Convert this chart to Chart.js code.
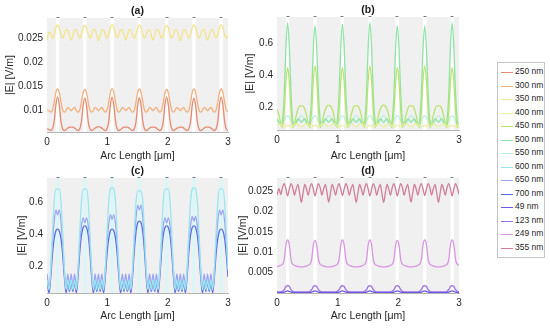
<!DOCTYPE html>
<html>
<head>
<meta charset="utf-8">
<script src="https://cdn.jsdelivr.net/npm/chart.js@4.4.0/dist/chart.umd.min.js"></script>
<style>
  body { margin: 0; background: #fff; }
  #wrap { position: relative; width: 550px; height: 328px; overflow: hidden; font-family: "Liberation Sans", Arial, sans-serif; }
  #wrap canvas { position: absolute; }
  #legend { position: absolute; left: 497px; top: 62px; width: 46px; padding: 2px 0 3px 0; border: 1px solid #c4c4c4; background: #fff; }
  #legend .row { position: relative; height: 13.5px; line-height: 13.5px; font-size: 8.5px; color: #262626; white-space: nowrap; padding-left: 17px; }
  #legend .sw { position: absolute; left: 3px; top: 7px; width: 12px; height: 0; }
</style>
</head>
<body>
<div id="wrap">
  <canvas id="chartA" width="240" height="164" style="left:0;top:0"></canvas>
  <canvas id="chartB" width="244" height="164" style="left:236px;top:0"></canvas>
  <canvas id="chartC" width="240" height="164" style="left:0;top:164px"></canvas>
  <canvas id="chartD" width="244" height="164" style="left:236px;top:164px"></canvas>
  <div id="legend"></div>
</div>
<script>
// abscisse commune (µm)
const arcLength = [
  0, 0.034, 0.062, 0.090, 0.119, 0.147,
  0.175, 0.203, 0.232, 0.260, 0.288, 0.316, 0.345, 0.373, 0.401, 0.429, 0.458, 0.486, 0.514, 0.542, 0.571, 0.599,
  0.627, 0.655, 0.684, 0.712, 0.740, 0.768, 0.797, 0.825, 0.853, 0.881, 0.910, 0.938, 0.966, 0.994, 1.023, 1.051,
  1.079, 1.107, 1.136, 1.164, 1.192, 1.220, 1.249, 1.277, 1.305, 1.333, 1.362, 1.390, 1.418, 1.446, 1.475, 1.503,
  1.531, 1.559, 1.588, 1.616, 1.644, 1.672, 1.701, 1.729, 1.757, 1.785, 1.814, 1.842, 1.870, 1.898, 1.927, 1.955,
  1.983, 2.011, 2.040, 2.068, 2.096, 2.124, 2.153, 2.181, 2.209, 2.237, 2.266, 2.294, 2.322, 2.350, 2.379, 2.407,
  2.435, 2.463, 2.492, 2.520, 2.548, 2.576, 2.605, 2.633, 2.661, 2.689, 2.718, 2.746, 2.774, 2.802, 2.831, 2.859,
  2.887, 2.915, 2.944, 2.972, 3.000
];
const gapCenters = [0.175, 0.627, 1.079, 1.531, 1.983, 2.435, 2.887];
const xTicks = [0, 1, 2, 3];

const wavelengths = ['250 nm', '300 nm', '350 nm', '400 nm', '450 nm', '500 nm', '550 nm',
  '600 nm', '650 nm', '700 nm', '49 nm', '123 nm', '249 nm', '355 nm'];
const lineColors = ['#e58a70', '#f4b07c', '#f3e38a', '#eaf0a0', '#b9e46c', '#8fe3a6', '#b8f0dc',
  '#98e6ee', '#9aa6f2', '#5a6ee4', '#6a5ae2', '#a06ee6', '#d896e2', '#cf7f9c'];

const panelTitles = ['(a)', '(b)', '(c)', '(d)'];
const yTicksA = [0.01, 0.015, 0.02, 0.025];
const yLabelsA = ['0.01', '0.015', '0.02', '0.025'];
const yTicksB = [0.2, 0.4, 0.6];
const yLabelsB = ['0.2', '0.4', '0.6'];
const yTicksC = [0.2, 0.4, 0.6];
const yLabelsC = ['0.2', '0.4', '0.6'];
const yTicksD = [0.005, 0.01, 0.015, 0.02, 0.025];
const yLabelsD = ['0.005', '0.01', '0.015', '0.02', '0.025'];

// (a)
const e250 = [
  0.0063, 0.0061, 0.0059, 0.0062, 0.0078, 0.0112,
  0.0128, 0.0112, 0.0078, 0.0062, 0.0059, 0.0061, 0.0064, 0.0066, 0.0066, 0.0066, 0.0064, 0.0061, 0.0059, 0.0062, 0.0078, 0.0111,
  0.0126, 0.0111, 0.0077, 0.0062, 0.0059, 0.0061, 0.0064, 0.0066, 0.0067, 0.0066, 0.0064, 0.0061, 0.0059, 0.0062, 0.0078, 0.0112,
  0.0128, 0.0112, 0.0078, 0.0062, 0.0059, 0.0061, 0.0064, 0.0066, 0.0066, 0.0066, 0.0064, 0.0061, 0.0059, 0.0062, 0.0077, 0.0111,
  0.0127, 0.0111, 0.0078, 0.0062, 0.0059, 0.0061, 0.0064, 0.0066, 0.0066, 0.0066, 0.0064, 0.0061, 0.0059, 0.0062, 0.0078, 0.0112,
  0.0128, 0.0112, 0.0078, 0.0062, 0.0059, 0.0061, 0.0064, 0.0065, 0.0066, 0.0066, 0.0064, 0.0061, 0.0059, 0.0062, 0.0077, 0.0111,
  0.0126, 0.0111, 0.0077, 0.0062, 0.0059, 0.0061, 0.0064, 0.0066, 0.0066, 0.0066, 0.0064, 0.0061, 0.0059, 0.0062, 0.0078, 0.0112,
  0.0128, 0.0112, 0.0078, 0.0062, 0.0059
];
const e300 = [
  0.0102, 0.0100, 0.0097, 0.0101, 0.0118, 0.0138,
  0.0145, 0.0138, 0.0118, 0.0101, 0.0097, 0.0101, 0.0107, 0.0104, 0.0100, 0.0104, 0.0107, 0.0101, 0.0097, 0.0101, 0.0118, 0.0137,
  0.0144, 0.0137, 0.0117, 0.0101, 0.0097, 0.0101, 0.0107, 0.0104, 0.0100, 0.0104, 0.0107, 0.0101, 0.0097, 0.0101, 0.0118, 0.0138,
  0.0146, 0.0138, 0.0118, 0.0101, 0.0097, 0.0101, 0.0107, 0.0104, 0.0100, 0.0104, 0.0107, 0.0101, 0.0097, 0.0101, 0.0118, 0.0138,
  0.0145, 0.0138, 0.0118, 0.0101, 0.0097, 0.0101, 0.0107, 0.0104, 0.0100, 0.0104, 0.0107, 0.0101, 0.0097, 0.0101, 0.0117, 0.0137,
  0.0144, 0.0137, 0.0117, 0.0101, 0.0097, 0.0101, 0.0107, 0.0104, 0.0100, 0.0104, 0.0107, 0.0101, 0.0097, 0.0101, 0.0118, 0.0138,
  0.0145, 0.0138, 0.0118, 0.0101, 0.0097, 0.0101, 0.0107, 0.0104, 0.0100, 0.0104, 0.0107, 0.0101, 0.0097, 0.0101, 0.0118, 0.0138,
  0.0145, 0.0138, 0.0118, 0.0101, 0.0098
];
const e350 = [
  0.0246, 0.0262, 0.0260, 0.0250, 0.0258, 0.0272,
  0.0278, 0.0272, 0.0258, 0.0250, 0.0258, 0.0268, 0.0267, 0.0256, 0.0246, 0.0256, 0.0268, 0.0268, 0.0258, 0.0250, 0.0258, 0.0272,
  0.0277, 0.0271, 0.0258, 0.0250, 0.0258, 0.0268, 0.0268, 0.0256, 0.0245, 0.0256, 0.0267, 0.0268, 0.0258, 0.0250, 0.0258, 0.0272,
  0.0278, 0.0272, 0.0258, 0.0251, 0.0258, 0.0268, 0.0268, 0.0256, 0.0246, 0.0256, 0.0268, 0.0268, 0.0258, 0.0250, 0.0258, 0.0271,
  0.0278, 0.0272, 0.0258, 0.0250, 0.0258, 0.0267, 0.0268, 0.0256, 0.0246, 0.0256, 0.0268, 0.0268, 0.0258, 0.0250, 0.0258, 0.0272,
  0.0277, 0.0272, 0.0258, 0.0250, 0.0258, 0.0268, 0.0268, 0.0256, 0.0245, 0.0256, 0.0268, 0.0267, 0.0258, 0.0250, 0.0258, 0.0272,
  0.0278, 0.0272, 0.0258, 0.0250, 0.0258, 0.0268, 0.0268, 0.0256, 0.0246, 0.0256, 0.0268, 0.0268, 0.0258, 0.0251, 0.0258, 0.0272,
  0.0278, 0.0272, 0.0258, 0.0250, 0.0256
];

// (b)
const e400 = [
  0.095, 0.100, 0.095, 0.085, 0.080, 0.085,
  0.090, 0.085, 0.080, 0.085, 0.095, 0.100, 0.095, 0.085, 0.080, 0.085, 0.095, 0.100, 0.095, 0.085, 0.080, 0.085,
  0.090, 0.085, 0.080, 0.085, 0.095, 0.099, 0.095, 0.085, 0.081, 0.085, 0.095, 0.100, 0.095, 0.085, 0.080, 0.085,
  0.091, 0.085, 0.080, 0.085, 0.095, 0.100, 0.095, 0.085, 0.080, 0.085, 0.095, 0.100, 0.094, 0.085, 0.080, 0.085,
  0.090, 0.085, 0.080, 0.085, 0.095, 0.100, 0.095, 0.085, 0.080, 0.085, 0.095, 0.099, 0.095, 0.085, 0.080, 0.085,
  0.090, 0.085, 0.081, 0.085, 0.095, 0.100, 0.095, 0.085, 0.080, 0.085, 0.095, 0.100, 0.095, 0.085, 0.080, 0.085,
  0.090, 0.085, 0.080, 0.085, 0.094, 0.100, 0.095, 0.085, 0.080, 0.085, 0.095, 0.100, 0.095, 0.085, 0.080, 0.085,
  0.090, 0.085, 0.080, 0.085, 0.095
];
const e450 = [
  0.19, 0.15, 0.10, 0.075, 0.18, 0.36,
  0.45, 0.36, 0.18, 0.075, 0.10, 0.15, 0.19, 0.21, 0.21, 0.21, 0.19, 0.15, 0.10, 0.075, 0.18, 0.37,
  0.46, 0.37, 0.18, 0.075, 0.10, 0.15, 0.19, 0.21, 0.215, 0.21, 0.19, 0.15, 0.10, 0.075, 0.18, 0.36,
  0.45, 0.36, 0.18, 0.075, 0.10, 0.15, 0.19, 0.21, 0.21, 0.21, 0.19, 0.15, 0.10, 0.075, 0.18, 0.37,
  0.46, 0.37, 0.18, 0.075, 0.10, 0.15, 0.19, 0.21, 0.215, 0.21, 0.19, 0.15, 0.10, 0.075, 0.18, 0.36,
  0.45, 0.36, 0.18, 0.075, 0.10, 0.15, 0.19, 0.21, 0.21, 0.21, 0.19, 0.15, 0.10, 0.075, 0.18, 0.37,
  0.46, 0.37, 0.18, 0.075, 0.10, 0.15, 0.19, 0.21, 0.21, 0.21, 0.19, 0.15, 0.10, 0.075, 0.18, 0.36,
  0.45, 0.36, 0.18, 0.075, 0.10
];
const e500 = [
  0.13, 0.11, 0.09, 0.12, 0.28, 0.58,
  0.73, 0.58, 0.28, 0.12, 0.09, 0.11, 0.13, 0.12, 0.11, 0.12, 0.13, 0.11, 0.09, 0.12, 0.28, 0.57,
  0.71, 0.57, 0.28, 0.12, 0.09, 0.11, 0.13, 0.12, 0.11, 0.12, 0.13, 0.11, 0.09, 0.12, 0.28, 0.58,
  0.72, 0.58, 0.28, 0.12, 0.09, 0.11, 0.13, 0.12, 0.11, 0.12, 0.13, 0.11, 0.09, 0.12, 0.28, 0.58,
  0.73, 0.58, 0.28, 0.12, 0.09, 0.11, 0.13, 0.12, 0.11, 0.12, 0.13, 0.11, 0.09, 0.12, 0.28, 0.57,
  0.71, 0.57, 0.28, 0.12, 0.09, 0.11, 0.13, 0.12, 0.11, 0.12, 0.13, 0.11, 0.09, 0.12, 0.28, 0.57,
  0.71, 0.57, 0.28, 0.12, 0.09, 0.11, 0.13, 0.12, 0.11, 0.12, 0.13, 0.11, 0.09, 0.12, 0.28, 0.58,
  0.73, 0.58, 0.28, 0.12, 0.09
];
const e550 = [
  0.12, 0.10, 0.09, 0.10, 0.12, 0.14,
  0.15, 0.14, 0.12, 0.10, 0.09, 0.10, 0.12, 0.14, 0.15, 0.14, 0.12, 0.10, 0.09, 0.10, 0.12, 0.14,
  0.15, 0.14, 0.12, 0.10, 0.09, 0.10, 0.12, 0.14, 0.15, 0.14, 0.12, 0.10, 0.09, 0.10, 0.12, 0.14,
  0.15, 0.14, 0.12, 0.10, 0.09, 0.10, 0.12, 0.14, 0.15, 0.14, 0.12, 0.10, 0.09, 0.10, 0.12, 0.14,
  0.15, 0.14, 0.12, 0.10, 0.09, 0.10, 0.12, 0.14, 0.15, 0.14, 0.12, 0.10, 0.09, 0.10, 0.12, 0.14,
  0.15, 0.14, 0.12, 0.10, 0.09, 0.10, 0.12, 0.14, 0.15, 0.14, 0.12, 0.10, 0.09, 0.10, 0.12, 0.14,
  0.15, 0.14, 0.12, 0.10, 0.09, 0.10, 0.12, 0.14, 0.15, 0.14, 0.12, 0.10, 0.09, 0.10, 0.12, 0.14,
  0.15, 0.14, 0.12, 0.10, 0.09
];

// (c)
const e600 = [
  0.11, 0.05, 0.18, 0.40, 0.60, 0.68,
  0.68, 0.68, 0.60, 0.40, 0.18, 0.05, 0.11, 0.05, 0.11, 0.05, 0.11, 0.05, 0.18, 0.40, 0.60, 0.68,
  0.68, 0.68, 0.60, 0.40, 0.18, 0.05, 0.11, 0.05, 0.11, 0.05, 0.11, 0.05, 0.18, 0.40, 0.60, 0.68,
  0.69, 0.68, 0.60, 0.40, 0.18, 0.05, 0.11, 0.05, 0.11, 0.05, 0.11, 0.05, 0.18, 0.40, 0.60, 0.67,
  0.67, 0.67, 0.60, 0.40, 0.18, 0.05, 0.11, 0.05, 0.11, 0.05, 0.11, 0.05, 0.18, 0.40, 0.60, 0.68,
  0.68, 0.68, 0.60, 0.40, 0.18, 0.05, 0.11, 0.05, 0.11, 0.05, 0.11, 0.05, 0.18, 0.40, 0.60, 0.68,
  0.69, 0.68, 0.60, 0.40, 0.18, 0.05, 0.11, 0.05, 0.11, 0.05, 0.11, 0.05, 0.18, 0.40, 0.60, 0.68,
  0.68, 0.68, 0.60, 0.40, 0.18
];
const e650 = [
  0.15, 0.06, 0.17, 0.34, 0.48, 0.55,
  0.52, 0.55, 0.48, 0.34, 0.17, 0.06, 0.15, 0.07, 0.15, 0.07, 0.15, 0.06, 0.17, 0.34, 0.45, 0.50,
  0.47, 0.50, 0.45, 0.33, 0.17, 0.06, 0.15, 0.07, 0.15, 0.07, 0.15, 0.06, 0.17, 0.34, 0.46, 0.52,
  0.49, 0.52, 0.46, 0.34, 0.17, 0.06, 0.15, 0.07, 0.15, 0.07, 0.15, 0.06, 0.17, 0.35, 0.50, 0.58,
  0.55, 0.58, 0.50, 0.35, 0.17, 0.06, 0.15, 0.07, 0.15, 0.07, 0.15, 0.06, 0.17, 0.33, 0.45, 0.50,
  0.47, 0.50, 0.45, 0.33, 0.17, 0.06, 0.15, 0.07, 0.15, 0.07, 0.15, 0.06, 0.17, 0.34, 0.45, 0.51,
  0.48, 0.51, 0.45, 0.34, 0.17, 0.06, 0.15, 0.07, 0.15, 0.07, 0.15, 0.06, 0.17, 0.34, 0.48, 0.55,
  0.52, 0.55, 0.48, 0.34, 0.17
];
const e700 = [
  0.10, 0.03, 0.13, 0.27, 0.37, 0.42,
  0.43, 0.42, 0.37, 0.27, 0.13, 0.03, 0.10, 0.04, 0.10, 0.04, 0.10, 0.03, 0.13, 0.28, 0.39, 0.44,
  0.45, 0.44, 0.39, 0.28, 0.13, 0.03, 0.10, 0.04, 0.10, 0.04, 0.10, 0.03, 0.13, 0.27, 0.37, 0.42,
  0.43, 0.42, 0.37, 0.27, 0.13, 0.03, 0.10, 0.04, 0.10, 0.04, 0.10, 0.03, 0.13, 0.29, 0.41, 0.47,
  0.48, 0.47, 0.41, 0.29, 0.13, 0.03, 0.10, 0.04, 0.10, 0.04, 0.10, 0.03, 0.13, 0.28, 0.39, 0.44,
  0.45, 0.44, 0.39, 0.28, 0.13, 0.03, 0.10, 0.04, 0.10, 0.04, 0.10, 0.03, 0.13, 0.28, 0.39, 0.44,
  0.45, 0.44, 0.39, 0.28, 0.13, 0.03, 0.10, 0.04, 0.10, 0.04, 0.10, 0.03, 0.13, 0.27, 0.37, 0.42,
  0.43, 0.42, 0.37, 0.27, 0.13
];

// (d)
const e49 = [
  0.0001, 0.0001, 0.0001, 0.0001, 0.0002, 0.0004,
  0.0005, 0.0004, 0.0002, 0.0001, 0.0001, 0.0001, 0.0001, 0.0001, 0.0001, 0.0001, 0.0001, 0.0001, 0.0001, 0.0001, 0.0002, 0.0004,
  0.0005, 0.0004, 0.0002, 0.0001, 0.0001, 0.0001, 0.0001, 0.0001, 0.0001, 0.0001, 0.0001, 0.0001, 0.0001, 0.0001, 0.0002, 0.0004,
  0.0005, 0.0004, 0.0002, 0.0001, 0.0001, 0.0001, 0.0001, 0.0001, 0.0001, 0.0001, 0.0001, 0.0001, 0.0001, 0.0001, 0.0002, 0.0004,
  0.0005, 0.0004, 0.0002, 0.0001, 0.0001, 0.0001, 0.0001, 0.0001, 0.0001, 0.0001, 0.0001, 0.0001, 0.0001, 0.0001, 0.0002, 0.0004,
  0.0005, 0.0004, 0.0002, 0.0001, 0.0001, 0.0001, 0.0001, 0.0001, 0.0001, 0.0001, 0.0001, 0.0001, 0.0001, 0.0001, 0.0002, 0.0004,
  0.0005, 0.0004, 0.0002, 0.0001, 0.0001, 0.0001, 0.0001, 0.0001, 0.0001, 0.0001, 0.0001, 0.0001, 0.0001, 0.0001, 0.0002, 0.0004,
  0.0005, 0.0004, 0.0002, 0.0001, 0.0001
];
const e123 = [
  0.0003, 0.0003, 0.0003, 0.0004, 0.0008, 0.0016,
  0.0018, 0.0016, 0.0008, 0.0004, 0.0003, 0.0003, 0.0003, 0.0003, 0.0003, 0.0003, 0.0003, 0.0003, 0.0003, 0.0004, 0.0008, 0.0016,
  0.0018, 0.0016, 0.0008, 0.0004, 0.0003, 0.0003, 0.0003, 0.0003, 0.0003, 0.0003, 0.0003, 0.0003, 0.0003, 0.0004, 0.0008, 0.0016,
  0.0018, 0.0016, 0.0008, 0.0004, 0.0003, 0.0003, 0.0003, 0.0003, 0.0003, 0.0003, 0.0003, 0.0003, 0.0003, 0.0004, 0.0008, 0.0016,
  0.0018, 0.0016, 0.0008, 0.0004, 0.0003, 0.0003, 0.0003, 0.0003, 0.0003, 0.0003, 0.0003, 0.0003, 0.0003, 0.0004, 0.0008, 0.0016,
  0.0018, 0.0016, 0.0008, 0.0004, 0.0003, 0.0003, 0.0003, 0.0003, 0.0003, 0.0003, 0.0003, 0.0003, 0.0003, 0.0004, 0.0008, 0.0016,
  0.0018, 0.0016, 0.0008, 0.0004, 0.0003, 0.0003, 0.0003, 0.0003, 0.0003, 0.0003, 0.0003, 0.0003, 0.0003, 0.0004, 0.0008, 0.0016,
  0.0018, 0.0016, 0.0008, 0.0004, 0.0003
];
const e249 = [
  0.0065, 0.0066, 0.0068, 0.0070, 0.0082, 0.0118,
  0.0130, 0.0118, 0.0082, 0.0070, 0.0068, 0.0066, 0.0065, 0.0064, 0.0064, 0.0064, 0.0065, 0.0066, 0.0068, 0.0070, 0.0082, 0.0117,
  0.0129, 0.0117, 0.0082, 0.0070, 0.0068, 0.0066, 0.0065, 0.0064, 0.0064, 0.0064, 0.0065, 0.0066, 0.0068, 0.0070, 0.0082, 0.0118,
  0.0130, 0.0118, 0.0082, 0.0070, 0.0068, 0.0066, 0.0065, 0.0064, 0.0064, 0.0064, 0.0065, 0.0066, 0.0068, 0.0070, 0.0082, 0.0118,
  0.0130, 0.0118, 0.0082, 0.0070, 0.0068, 0.0066, 0.0065, 0.0064, 0.0064, 0.0064, 0.0065, 0.0066, 0.0068, 0.0070, 0.0082, 0.0117,
  0.0129, 0.0117, 0.0082, 0.0070, 0.0068, 0.0066, 0.0065, 0.0064, 0.0064, 0.0064, 0.0065, 0.0066, 0.0068, 0.0070, 0.0082, 0.0118,
  0.0130, 0.0118, 0.0082, 0.0070, 0.0068, 0.0066, 0.0065, 0.0064, 0.0064, 0.0064, 0.0065, 0.0066, 0.0068, 0.0070, 0.0082, 0.0118,
  0.0130, 0.0118, 0.0082, 0.0070, 0.0068
];
const e355 = [
  0.0240, 0.0256, 0.0241, 0.0258, 0.0268, 0.0255,
  0.0238, 0.0255, 0.0268, 0.0258, 0.0240, 0.0255, 0.0266, 0.0245, 0.0222, 0.0245, 0.0266, 0.0255, 0.0240, 0.0258, 0.0268, 0.0255,
  0.0238, 0.0255, 0.0268, 0.0258, 0.0240, 0.0255, 0.0266, 0.0245, 0.0223, 0.0245, 0.0266, 0.0255, 0.0240, 0.0258, 0.0268, 0.0255,
  0.0239, 0.0255, 0.0268, 0.0258, 0.0240, 0.0255, 0.0266, 0.0245, 0.0222, 0.0245, 0.0266, 0.0255, 0.0240, 0.0258, 0.0268, 0.0255,
  0.0238, 0.0255, 0.0268, 0.0258, 0.0240, 0.0255, 0.0266, 0.0245, 0.0222, 0.0245, 0.0266, 0.0255, 0.0240, 0.0258, 0.0268, 0.0255,
  0.0238, 0.0255, 0.0268, 0.0258, 0.0240, 0.0255, 0.0266, 0.0245, 0.0223, 0.0245, 0.0266, 0.0255, 0.0240, 0.0258, 0.0268, 0.0255,
  0.0239, 0.0255, 0.0268, 0.0258, 0.0240, 0.0255, 0.0266, 0.0245, 0.0222, 0.0245, 0.0266, 0.0255, 0.0240, 0.0258, 0.0268, 0.0255,
  0.0238, 0.0255, 0.0268, 0.0258, 0.0242
];

const seriesValues = [e250, e300, e350, e400, e450, e500, e550, e600, e650, e700, e49, e123, e249, e355];

// légende commune
const legendBox = document.getElementById('legend');
wavelengths.forEach((w, i) => {
  const row = document.createElement('div');
  row.className = 'row';
  const sw = document.createElement('span');
  sw.className = 'sw';
  sw.style.borderTop = '1px solid ' + lineColors[i];
  row.appendChild(sw);
  row.appendChild(document.createTextNode(w));
  legendBox.appendChild(row);
});

// fond gris + bandes blanches + titre du panneau
const gapWidth = 0.055;
const panelDeco = {
  id: 'panelDeco',
  beforeDatasetsDraw(chart, args, opts) {
    const { ctx, chartArea: a, scales: { x } } = chart;
    ctx.save();
    ctx.fillStyle = '#f0f0f0';
    ctx.fillRect(a.left, a.top, a.width, a.height);
    ctx.fillStyle = opts.gapColor;
    gapCenters.forEach(c => {
      const x0 = x.getPixelForValue(c - gapWidth / 2);
      const x1 = x.getPixelForValue(c + gapWidth / 2);
      ctx.fillRect(x0, a.top, x1 - x0, a.height);
    });
    ctx.restore();
  },
  afterDraw(chart, args, opts) {
    const { ctx, chartArea: a, scales: { x } } = chart;
    ctx.save();
    ctx.strokeStyle = '#7a7a7a';
    ctx.lineWidth = 1;
    gapCenters.forEach(c => {
      const px = Math.round(x.getPixelForValue(c));
      ctx.beginPath();
      ctx.moveTo(px - 1.5, a.top - 0.5);
      ctx.lineTo(px + 1.5, a.top - 0.5);
      ctx.stroke();
    });
    ctx.fillStyle = '#1a1a1a';
    ctx.font = 'bold 10.5px "Liberation Sans", Arial, sans-serif';
    ctx.textAlign = 'center';
    ctx.textBaseline = 'middle';
    ctx.fillText(opts.title, (a.left + a.right) / 2, a.top - 7);
    ctx.restore();
  }
};

const tickFont = { family: '"Liberation Sans", Arial, sans-serif', size: 10 };
const titleFont = { family: '"Liberation Sans", Arial, sans-serif', size: 10.5 };

function makePanel(canvasId, cfg) {
  const datasets = cfg.series.map(i => ({
    label: wavelengths[i],
    data: arcLength.map((x, k) => ({ x: x, y: seriesValues[i][k] })),
    borderColor: lineColors[i],
    borderWidth: 1.3,
    pointRadius: 0,
    fill: false,
    cubicInterpolationMode: 'monotone'
  }));
  return new Chart(document.getElementById(canvasId), {
    type: 'line',
    data: { datasets },
    options: {
      responsive: false,
      animation: false,
      events: [],
      layout: { padding: cfg.pad },
      plugins: {
        legend: { display: false },
        tooltip: { enabled: false },
        panelDeco: { title: cfg.title, gapColor: cfg.gapColor }
      },
      scales: {
        x: {
          type: 'linear', min: 0, max: 3,
          afterBuildTicks: s => { s.ticks = xTicks.map(v => ({ value: v })); },
          afterFit: s => { s.height = cfg.xHeight; },
          grid: { display: false, drawTicks: false },
          border: { display: true, color: '#b4b4b4' },
          ticks: { font: tickFont, color: '#262626', padding: 4, maxRotation: 0, callback: v => String(v) },
          title: { display: true, text: 'Arc Length [\u03bcm]', font: titleFont, color: '#262626', padding: { top: 0, bottom: cfg.xTitlePad } }
        },
        y: {
          min: cfg.yMin, max: cfg.yMax,
          afterBuildTicks: s => { s.ticks = cfg.yTicks.map(v => ({ value: v })); },
          afterFit: s => { s.width = cfg.yWidth; },
          grid: { display: false, drawTicks: false },
          border: { display: false },
          ticks: { font: tickFont, color: '#262626', padding: 4, callback: (v, idx) => cfg.yLabels[idx] },
          title: { display: true, text: '|E| [V/m]', font: titleFont, color: '#262626', padding: { top: cfg.yTitlePad, bottom: 0 } }
        }
      }
    },
    plugins: [panelDeco]
  });
}

makePanel('chartA', { title: panelTitles[0], series: [0, 1, 2], gapColor: '#ffffff',
  yMin: 0.0056, yMax: 0.0292, yTicks: yTicksA, yLabels: yLabelsA,
  pad: { top: 18, right: 12, left: 0, bottom: 0 }, yWidth: 47, xHeight: 32, xTitlePad: 2, yTitlePad: 4 });
makePanel('chartB', { title: panelTitles[1], series: [3, 4, 5, 6], gapColor: '#ffffff',
  yMin: 0.06, yMax: 0.765, yTicks: yTicksB, yLabels: yLabelsB,
  pad: { top: 17, right: 21, left: 0, bottom: 0 }, yWidth: 41, xHeight: 34, xTitlePad: 2, yTitlePad: 7.5 });
makePanel('chartC', { title: panelTitles[2], series: [7, 8, 9], gapColor: '#dcf6f8',
  yMin: 0.03, yMax: 0.75, yTicks: yTicksC, yLabels: yLabelsC,
  pad: { top: 14, right: 12, left: 0, bottom: 0 }, yWidth: 47, xHeight: 35, xTitlePad: 5.5, yTitlePad: 15.5 });
makePanel('chartD', { title: panelTitles[3], series: [10, 11, 12, 13], gapColor: '#ffffff',
  yMin: 0, yMax: 0.0282, yTicks: yTicksD, yLabels: yLabelsD,
  pad: { top: 14, right: 21, left: 0, bottom: 0 }, yWidth: 41, xHeight: 35, xTitlePad: 5.5, yTitlePad: 0.7 });
</script>
</body>
</html>
